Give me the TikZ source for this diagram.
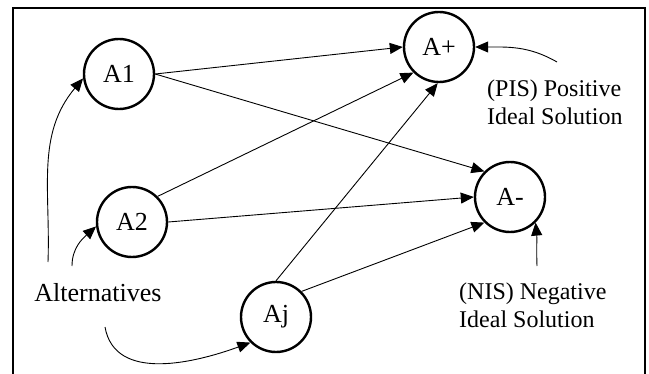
\documentclass[tikz,border=0pt]{standalone}
\usepackage{fontspec}
\setmainfont{Liberation Serif}
\usetikzlibrary{arrows.meta}
\usetikzlibrary{positioning}
\tikzstyle{vertex}=[circle,draw,line width=2.4pt,minimum size=70pt,inner sep=0pt,font=\fontsize{26}{30}\selectfont]
\tikzstyle{edge} = [draw,line width=0.9pt,-{Triangle[length=13pt,width=11pt]}]
\tikzstyle{note} = [align=left,inner sep=0pt,font=\fontsize{24}{28}\selectfont]

\begin{document}
\begin{tikzpicture}[x=1pt,y=1pt]
    % Page size and the frame, open at the bottom
    \useasboundingbox (0,0) rectangle (649,373);
    \clip (0,0) rectangle (649,373);
    \draw[line width=1.2pt] (13,-20) rectangle (645,365);

    % First we draw the alternatives and the ideal solutions
    \foreach \pos/\name/\lbl in {{(119,299)/A1/A1}, {(132,151)/A2/A2}, {(276,56)/Aj/Aj}, {(439,326)/Ap/A+}, {(510,176)/Am/A-}}
        \node[vertex] (\name) at \pos {\lbl};

    % Texts
    \node[inner sep=0pt,font=\fontsize{26}{30}\selectfont] (alt) at (98,80) {Alternatives};
    \node[note,anchor=west] (pis) at (487,271) {(PIS) Positive\\Ideal Solution};
    \node[note,anchor=west] (nis) at (459,68) {(NIS) Negative\\Ideal Solution};

    % Free ends of the curved arrows
    \coordinate (alt1) at (48,111);
    \coordinate (alt2) at (72,107);
    \coordinate (alt3) at (105,46);
    \coordinate (pis1) at (557,311);
    \coordinate (nis1) at (537,107);

    % Connect alternatives with the ideal solutions
    \foreach \source/\dest in {A1.east/Ap.west, A1.east/Am.135, A2.45/Ap.225, A2.east/Am.west, Aj.north/Ap.268, Aj.45/Am.225}
        \path[edge] (\source) -- (\dest);

    % Curved arrows from the texts
    \path[edge] (alt1) to[out=88,in=230] (A1.187);
    \path[edge] (alt2) to[out=90,in=222] (A2.187);
    \path[edge] (alt3) to[out=-80,in=200] (Aj.225);
    \path[edge] (pis1) to[out=150,in=0] (Ap.east);
    \path[edge] (nis1) to[out=92,in=-85] (Am.-45);
\end{tikzpicture}
\end{document}
